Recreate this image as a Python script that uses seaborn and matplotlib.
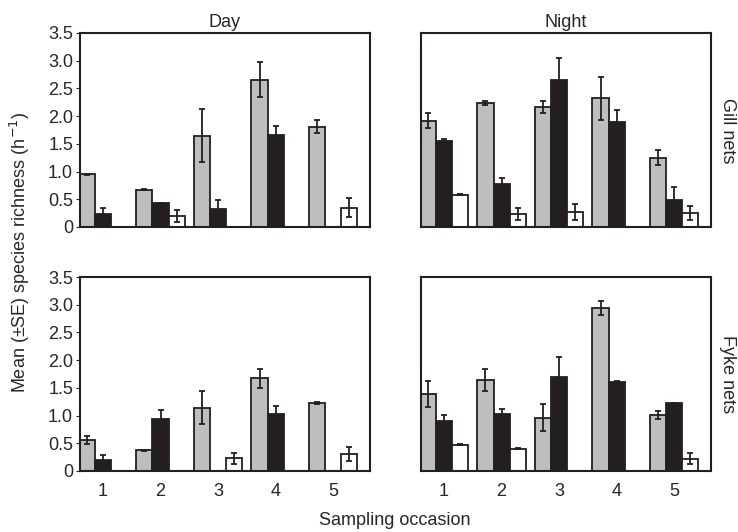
import numpy as np
import pandas as pd
import seaborn as sns
import matplotlib.pyplot as plt

occasions = ["1", "2", "3", "4", "5"]
groups = ["grey", "black", "white"]

# Gill nets, day (mean, SE)
gill_day_grey = [0.95, 0.67, 1.65, 2.66, 1.81]
gill_day_grey_se = [0.01, 0.01, 0.47, 0.31, 0.12]
gill_day_black = [0.23, 0.43, 0.32, 1.66, 0.0]
gill_day_black_se = [0.11, 0.01, 0.16, 0.17, 0.0]
gill_day_white = [0.0, 0.20, 0.0, 0.0, 0.35]
gill_day_white_se = [0.0, 0.11, 0.0, 0.0, 0.17]

# Gill nets, night
gill_night_grey = [1.92, 2.24, 2.16, 2.32, 1.25]
gill_night_grey_se = [0.14, 0.04, 0.11, 0.39, 0.14]
gill_night_black = [1.56, 0.77, 2.66, 1.89, 0.48]
gill_night_black_se = [0.02, 0.12, 0.38, 0.22, 0.24]
gill_night_white = [0.58, 0.24, 0.27, 0.0, 0.25]
gill_night_white_se = [0.01, 0.11, 0.15, 0.0, 0.12]

# Fyke nets, day
fyke_day_grey = [0.56, 0.37, 1.14, 1.67, 1.23]
fyke_day_grey_se = [0.08, 0.01, 0.30, 0.17, 0.02]
fyke_day_black = [0.20, 0.93, 0.0, 1.02, 0.0]
fyke_day_black_se = [0.09, 0.17, 0.0, 0.15, 0.0]
fyke_day_white = [0.0, 0.0, 0.23, 0.0, 0.31]
fyke_day_white_se = [0.0, 0.0, 0.10, 0.0, 0.13]

# Fyke nets, night
fyke_night_grey = [1.39, 1.64, 0.96, 2.94, 1.01]
fyke_night_grey_se = [0.24, 0.20, 0.24, 0.12, 0.08]
fyke_night_black = [0.91, 1.03, 1.69, 1.61, 1.22]
fyke_night_black_se = [0.10, 0.09, 0.36, 0.01, 0.01]
fyke_night_white = [0.47, 0.40, 0.0, 0.0, 0.22]
fyke_night_white_se = [0.01, 0.01, 0.0, 0.0, 0.10]

yticks = [0, 0.5, 1.0, 1.5, 2.0, 2.5, 3.0, 3.5]
ytick_labels = ["0", "0.5", "1.0", "1.5", "2.0", "2.5", "3.0", "3.5"]

panels = [
    [(gill_day_grey, gill_day_black, gill_day_white),
     (gill_day_grey_se, gill_day_black_se, gill_day_white_se)],
    [(gill_night_grey, gill_night_black, gill_night_white),
     (gill_night_grey_se, gill_night_black_se, gill_night_white_se)],
    [(fyke_day_grey, fyke_day_black, fyke_day_white),
     (fyke_day_grey_se, fyke_day_black_se, fyke_day_white_se)],
    [(fyke_night_grey, fyke_night_black, fyke_night_white),
     (fyke_night_grey_se, fyke_night_black_se, fyke_night_white_se)],
]

dark = "#231f20"
palette = ["#bdbebf", dark, "#ffffff"]
fs = 13

sns.set_style("ticks")
plt.rcParams["font.family"] = ["Liberation Sans", "DejaVu Sans"]

fig, axes = plt.subplots(2, 2, figsize=(7.38, 5.32), dpi=100)
fig.subplots_adjust(left=0.1084, right=0.9634, bottom=0.1147, top=0.938,
                    wspace=0.176, hspace=0.258)

for i, ax in enumerate(axes.flat):
    means, ses = panels[i]
    df = pd.DataFrame({
        "occasion": np.tile(occasions, 3),
        "group": np.repeat(groups, 5),
        "value": np.concatenate(means),
    })
    sns.barplot(data=df, x="occasion", y="value", hue="group", order=occasions,
                hue_order=groups, palette=palette, width=0.84, gap=0,
                edgecolor=dark, linewidth=1.3, errorbar=None, legend=False,
                saturation=1, ax=ax)
    for cont, se in zip(ax.containers, ses):
        xs = [p.get_x() + p.get_width() / 2 for p in cont]
        ys = [p.get_height() for p in cont]
        ax.errorbar(xs, ys, yerr=se, fmt="none", ecolor=dark, elinewidth=1.3,
                    capsize=2, capthick=1.3, zorder=5, clip_on=False)
    ax.set_xlim(-0.4, 4.64)
    ax.set_ylim(0, 3.5)
    ax.set_xlabel("")
    ax.set_ylabel("")
    for s in ax.spines.values():
        s.set_color(dark)
        s.set_linewidth(1.5)
    ax.tick_params(axis="x", length=0, labelsize=fs, pad=9)
    ax.set_yticks(yticks)
    if i % 2 == 0:
        ax.set_yticklabels(ytick_labels)
        ax.tick_params(axis="y", length=3, width=0.8, labelsize=fs, pad=2)
    else:
        ax.tick_params(axis="y", length=0, labelleft=False)
    if i < 2:
        ax.tick_params(axis="x", labelbottom=False)

axes[0, 0].set_title("Day", fontsize=fs, pad=4)
axes[0, 1].set_title("Night", fontsize=fs, pad=4)

fig.text(0.986, 0.755, "Gill nets", rotation=-90, ha="center", va="center", fontsize=fs)
fig.text(0.986, 0.297, "Fyke nets", rotation=-90, ha="center", va="center", fontsize=fs)
fig.text(0.027, 0.526, "Mean (±SE) species richness (h$^{-1}$)", rotation=90,
         ha="center", va="center", fontsize=fs)
fig.text(0.535, 0.022, "Sampling occasion", ha="center", va="center", fontsize=fs)

fig.savefig("out.png", dpi=100)
